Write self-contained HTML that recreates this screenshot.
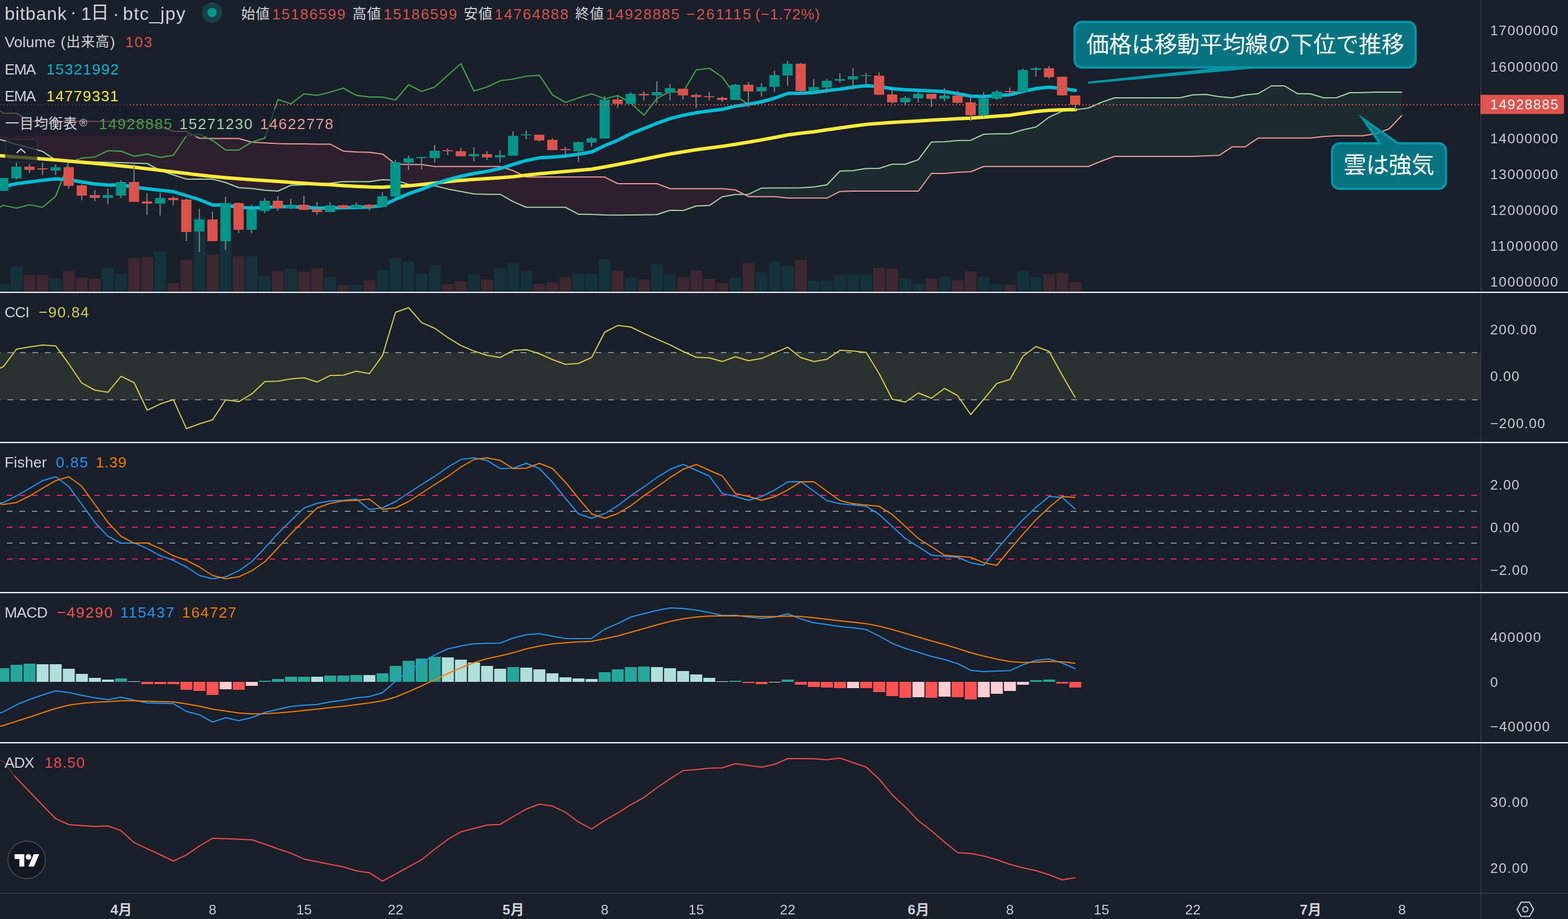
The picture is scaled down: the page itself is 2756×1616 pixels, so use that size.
<!DOCTYPE html>
<html lang="ja"><head><meta charset="utf-8"><title>bitbank · 1日 · btc_jpy</title>
<style>
html,body{margin:0;padding:0;background:#191f2b;}
body{width:2756px;height:1616px;position:relative;overflow:hidden;font-family:"Liberation Sans",sans-serif;}
svg.c{position:absolute;left:0;top:0;}
#labels{position:absolute;left:0;top:0;width:2756px;height:1616px;will-change:transform;transform:translateZ(0);}
.t{position:absolute;white-space:pre;line-height:1;font-family:"Liberation Sans",sans-serif;}
</style></head><body>
<svg class="c" width="2756" height="1616" viewBox="0 0 2756 1616" role="img" aria-label="bitbank btc_jpy 1日 チャート: 価格は移動平均線の下位で推移 / 雲は強気">
<defs>
<clipPath id="cpMain"><rect x="0" y="0" width="2602" height="513"/></clipPath>
<clipPath id="cpPlot"><rect x="0" y="515" width="2602" height="1055"/></clipPath>
</defs>
<rect x="2602" y="0" width="1.5" height="1616" fill="#363a45"/>
<g clip-path="url(#cpMain)">
<rect x="-4.5" y="500" width="21" height="13" fill="#15323b"/>
<rect x="18.5" y="469" width="21" height="44" fill="#15323b"/>
<rect x="41.5" y="483.3" width="21" height="29.7" fill="#3d2731"/>
<rect x="64.4" y="483.3" width="21" height="29.7" fill="#3d2731"/>
<rect x="87.4" y="490" width="21" height="23" fill="#15323b"/>
<rect x="110.4" y="476.7" width="21" height="36.3" fill="#3d2731"/>
<rect x="133.4" y="488.3" width="21" height="24.7" fill="#3d2731"/>
<rect x="156.3" y="490" width="21" height="23" fill="#3d2731"/>
<rect x="179.3" y="471" width="21" height="42" fill="#15323b"/>
<rect x="202.3" y="481.7" width="21" height="31.3" fill="#15323b"/>
<rect x="225.2" y="454" width="21" height="59" fill="#3d2731"/>
<rect x="248.2" y="452" width="21" height="61" fill="#3d2731"/>
<rect x="271.2" y="442" width="21" height="71" fill="#15323b"/>
<rect x="294.2" y="498" width="21" height="15" fill="#3d2731"/>
<rect x="317.2" y="457" width="21" height="56" fill="#3d2731"/>
<rect x="340.1" y="382" width="21" height="131" fill="#15323b"/>
<rect x="363.1" y="447.9" width="21" height="65.1" fill="#3d2731"/>
<rect x="386.1" y="397.3" width="21" height="115.7" fill="#15323b"/>
<rect x="409.1" y="450.7" width="21" height="62.3" fill="#3d2731"/>
<rect x="432" y="450.7" width="21" height="62.3" fill="#15323b"/>
<rect x="455" y="485.7" width="21" height="27.3" fill="#15323b"/>
<rect x="478" y="476.7" width="21" height="36.3" fill="#3d2731"/>
<rect x="501" y="472.7" width="21" height="40.3" fill="#15323b"/>
<rect x="523.9" y="477.7" width="21" height="35.3" fill="#3d2731"/>
<rect x="546.9" y="471.7" width="21" height="41.3" fill="#3d2731"/>
<rect x="569.9" y="487" width="21" height="26" fill="#15323b"/>
<rect x="592.9" y="501.7" width="21" height="11.3" fill="#3d2731"/>
<rect x="615.8" y="500.7" width="21" height="12.3" fill="#15323b"/>
<rect x="638.8" y="492.7" width="21" height="20.3" fill="#3d2731"/>
<rect x="661.8" y="475" width="21" height="38" fill="#15323b"/>
<rect x="684.8" y="453.3" width="21" height="59.7" fill="#15323b"/>
<rect x="707.7" y="460" width="21" height="53" fill="#15323b"/>
<rect x="730.7" y="480.7" width="21" height="32.3" fill="#15323b"/>
<rect x="753.7" y="465.7" width="21" height="47.3" fill="#15323b"/>
<rect x="776.7" y="500" width="21" height="13" fill="#3d2731"/>
<rect x="799.6" y="495" width="21" height="18" fill="#3d2731"/>
<rect x="822.6" y="482.7" width="21" height="30.3" fill="#15323b"/>
<rect x="845.6" y="491.7" width="21" height="21.3" fill="#3d2731"/>
<rect x="868.6" y="471.7" width="21" height="41.3" fill="#15323b"/>
<rect x="891.5" y="462.7" width="21" height="50.3" fill="#15323b"/>
<rect x="914.5" y="476.7" width="21" height="36.3" fill="#15323b"/>
<rect x="937.5" y="499" width="21" height="14" fill="#3d2731"/>
<rect x="960.5" y="496.7" width="21" height="16.3" fill="#3d2731"/>
<rect x="983.4" y="487.7" width="21" height="25.3" fill="#3d2731"/>
<rect x="1006.4" y="481.7" width="21" height="31.3" fill="#15323b"/>
<rect x="1029.4" y="481.7" width="21" height="31.3" fill="#15323b"/>
<rect x="1052.4" y="455.7" width="21" height="57.3" fill="#15323b"/>
<rect x="1075.3" y="476" width="21" height="37" fill="#3d2731"/>
<rect x="1098.3" y="487.7" width="21" height="25.3" fill="#15323b"/>
<rect x="1121.3" y="491.7" width="21" height="21.3" fill="#3d2731"/>
<rect x="1144.2" y="464.7" width="21" height="48.3" fill="#15323b"/>
<rect x="1167.2" y="482.7" width="21" height="30.3" fill="#15323b"/>
<rect x="1190.2" y="487.7" width="21" height="25.3" fill="#3d2731"/>
<rect x="1213.2" y="475.7" width="21" height="37.3" fill="#3d2731"/>
<rect x="1236.2" y="490" width="21" height="23" fill="#3d2731"/>
<rect x="1259.1" y="497.7" width="21" height="15.3" fill="#3d2731"/>
<rect x="1282.1" y="488.7" width="21" height="24.3" fill="#15323b"/>
<rect x="1305.1" y="462.7" width="21" height="50.3" fill="#3d2731"/>
<rect x="1328.1" y="478.7" width="21" height="34.3" fill="#15323b"/>
<rect x="1351" y="459.7" width="21" height="53.3" fill="#15323b"/>
<rect x="1374" y="467.7" width="21" height="45.3" fill="#15323b"/>
<rect x="1397" y="456.7" width="21" height="56.3" fill="#3d2731"/>
<rect x="1420" y="493.7" width="21" height="19.3" fill="#15323b"/>
<rect x="1442.9" y="492.7" width="21" height="20.3" fill="#15323b"/>
<rect x="1465.9" y="483.7" width="21" height="29.3" fill="#15323b"/>
<rect x="1488.9" y="482.7" width="21" height="30.3" fill="#15323b"/>
<rect x="1511.9" y="482.7" width="21" height="30.3" fill="#15323b"/>
<rect x="1534.8" y="470.7" width="21" height="42.3" fill="#3d2731"/>
<rect x="1557.8" y="472.7" width="21" height="40.3" fill="#3d2731"/>
<rect x="1580.8" y="489.7" width="21" height="23.3" fill="#15323b"/>
<rect x="1603.8" y="498.7" width="21" height="14.3" fill="#15323b"/>
<rect x="1626.7" y="489.7" width="21" height="23.3" fill="#3d2731"/>
<rect x="1649.7" y="486.7" width="21" height="26.3" fill="#15323b"/>
<rect x="1672.7" y="492.7" width="21" height="20.3" fill="#3d2731"/>
<rect x="1695.7" y="477.7" width="21" height="35.3" fill="#3d2731"/>
<rect x="1718.6" y="486.7" width="21" height="26.3" fill="#15323b"/>
<rect x="1741.6" y="500" width="21" height="13" fill="#15323b"/>
<rect x="1764.6" y="500.7" width="21" height="12.3" fill="#3d2731"/>
<rect x="1787.6" y="476.7" width="21" height="36.3" fill="#15323b"/>
<rect x="1810.5" y="487.7" width="21" height="25.3" fill="#15323b"/>
<rect x="1833.5" y="481.7" width="21" height="31.3" fill="#3d2731"/>
<rect x="1856.5" y="479.7" width="21" height="33.3" fill="#3d2731"/>
<rect x="1879.5" y="495.7" width="21" height="17.3" fill="#3d2731"/>
<polygon points="-17,241 6,247 29,254 52,260 74.9,266.3 97.9,281.7 120.9,283.3 143.9,284 166.8,284.7 189.8,285.4 212.8,286.1 235.8,286.8 258.7,287.5 281.7,300 304.7,307.5 327.7,315 350.6,315 373.6,315 396.6,321 419.6,330 442.5,331.5 465.5,334.5 488.5,336 511.5,325.8 534.4,325 557.4,323 580.4,322.3 603.4,319.3 626.3,319.5 649.3,319.5 672.3,315.9 695.2,316.9 718.2,324.2 741.2,325.4 764.2,326.8 787.2,332.4 810.1,336.7 833.1,341.1 856.1,341.7 879.1,341.7 902,354.6 925,364.5 948,364.5 971,364.5 993.9,364.5 1016.9,376.8 1039.9,377 1062.9,378 1085.8,378.3 1108.8,378 1131.8,377.7 1154.8,377.3 1177.7,369.7 1200.7,370.3 1223.7,362.3 1246.7,361.3 1269.6,346 1292.6,342 1307.9,341.8 1307.9,341.8 1292.6,334 1269.6,331.7 1246.7,331.7 1223.7,331.7 1200.7,331.7 1177.7,331.7 1154.8,323 1131.8,323 1108.8,323 1085.8,323 1062.9,311.3 1039.9,311.3 1016.9,311.3 993.9,311.3 971,311.3 948,311.3 925,311.3 902,300 879.1,292.8 856.1,292.8 833.1,292.8 810.1,292.8 787.2,292.8 764.2,292.8 741.2,289.3 718.2,289.3 695.2,288.5 672.3,270.9 649.3,267.7 626.3,267.3 603.4,265.7 580.4,253.4 557.4,253.4 534.4,253 511.5,253 488.5,252.5 465.5,251.3 442.5,250 419.6,243.5 396.6,243.5 373.6,243.5 350.6,243 327.7,231.3 304.7,230.8 281.7,223 258.7,214.5 235.8,213.6 212.8,213.5 189.8,213.4 166.8,213.4 143.9,213.3 120.9,213.3 97.9,213.2 74.9,213.2 52,213.2 29,199.2 6,199 -17,183" fill="#2e1f2e"/>
<polygon points="1307.9,341.8 1315.6,341.7 1338.6,330.7 1361.5,330.5 1384.5,330.4 1407.5,330.3 1430.5,328.7 1453.4,325 1476.4,300.7 1499.4,300 1522.4,296.3 1545.3,296 1568.3,288.7 1591.3,288.7 1614.2,280.7 1637.2,249.7 1660.2,249.3 1683.2,247 1706.2,246.7 1729.1,236 1752.1,235.3 1775.1,235.3 1798.1,228.3 1821,223.3 1844,206 1867,195.7 1890,193 1912.9,190 1935.9,180 1958.9,172 1981.9,172 2004.8,172 2027.8,172 2050.8,172 2073.8,172 2096.7,166.7 2119.7,166 2142.7,170 2165.7,172 2188.6,167 2211.6,164.7 2234.6,151 2257.6,151 2280.5,164.7 2303.5,165 2326.5,172 2349.5,171.7 2372.4,163 2395.4,162.7 2418.4,162 2441.4,162 2464.3,162 2464.3,202.7 2441.4,226.7 2418.4,235 2395.4,238.7 2372.4,238.7 2349.5,238.7 2326.5,240 2303.5,242.7 2280.5,242.7 2257.6,242.7 2234.6,242.7 2211.6,242.7 2188.6,258.3 2165.7,258.3 2142.7,273.3 2119.7,274 2096.7,275 2073.8,275 2050.8,275 2027.8,275 2004.8,275 1981.9,275 1958.9,275 1935.9,283.3 1912.9,292.7 1890,292.7 1867,292.7 1844,292.7 1821,292.7 1798.1,292.7 1775.1,292.7 1752.1,292.7 1729.1,292.7 1706.2,302 1683.2,303 1660.2,305 1637.2,305 1614.2,336 1591.3,336 1568.3,336 1545.3,336 1522.4,336 1499.4,336 1476.4,336.7 1453.4,348.3 1430.5,348.3 1407.5,348.3 1384.5,348.3 1361.5,345.7 1338.6,345.7 1315.6,345.7 1307.9,341.8" fill="#1d2b30"/>
<polyline points="-17,241 6,247 29,254 52,260 74.9,266.3 97.9,281.7 120.9,283.3 143.9,284 166.8,284.7 189.8,285.4 212.8,286.1 235.8,286.8 258.7,287.5 281.7,300 304.7,307.5 327.7,315 350.6,315 373.6,315 396.6,321 419.6,330 442.5,331.5 465.5,334.5 488.5,336 511.5,325.8 534.4,325 557.4,323 580.4,322.3 603.4,319.3 626.3,319.5 649.3,319.5 672.3,315.9 695.2,316.9 718.2,324.2 741.2,325.4 764.2,326.8 787.2,332.4 810.1,336.7 833.1,341.1 856.1,341.7 879.1,341.7 902,354.6 925,364.5 948,364.5 971,364.5 993.9,364.5 1016.9,376.8 1039.9,377 1062.9,378 1085.8,378.3 1108.8,378 1131.8,377.7 1154.8,377.3 1177.7,369.7 1200.7,370.3 1223.7,362.3 1246.7,361.3 1269.6,346 1292.6,342 1315.6,341.7 1338.6,330.7 1361.5,330.5 1384.5,330.4 1407.5,330.3 1430.5,328.7 1453.4,325 1476.4,300.7 1499.4,300 1522.4,296.3 1545.3,296 1568.3,288.7 1591.3,288.7 1614.2,280.7 1637.2,249.7 1660.2,249.3 1683.2,247 1706.2,246.7 1729.1,236 1752.1,235.3 1775.1,235.3 1798.1,228.3 1821,223.3 1844,206 1867,195.7 1890,193 1912.9,190 1935.9,180 1958.9,172 1981.9,172 2004.8,172 2027.8,172 2050.8,172 2073.8,172 2096.7,166.7 2119.7,166 2142.7,170 2165.7,172 2188.6,167 2211.6,164.7 2234.6,151 2257.6,151 2280.5,164.7 2303.5,165 2326.5,172 2349.5,171.7 2372.4,163 2395.4,162.7 2418.4,162 2441.4,162 2464.3,162" fill="none" stroke="#a5d6a7" stroke-width="2" stroke-linejoin="round"/>
<polyline points="-17,183 6,199 29,199.2 52,213.2 74.9,213.2 97.9,213.2 120.9,213.3 143.9,213.3 166.8,213.4 189.8,213.4 212.8,213.5 235.8,213.6 258.7,214.5 281.7,223 304.7,230.8 327.7,231.3 350.6,243 373.6,243.5 396.6,243.5 419.6,243.5 442.5,250 465.5,251.3 488.5,252.5 511.5,253 534.4,253 557.4,253.4 580.4,253.4 603.4,265.7 626.3,267.3 649.3,267.7 672.3,270.9 695.2,288.5 718.2,289.3 741.2,289.3 764.2,292.8 787.2,292.8 810.1,292.8 833.1,292.8 856.1,292.8 879.1,292.8 902,300 925,311.3 948,311.3 971,311.3 993.9,311.3 1016.9,311.3 1039.9,311.3 1062.9,311.3 1085.8,323 1108.8,323 1131.8,323 1154.8,323 1177.7,331.7 1200.7,331.7 1223.7,331.7 1246.7,331.7 1269.6,331.7 1292.6,334 1315.6,345.7 1338.6,345.7 1361.5,345.7 1384.5,348.3 1407.5,348.3 1430.5,348.3 1453.4,348.3 1476.4,336.7 1499.4,336 1522.4,336 1545.3,336 1568.3,336 1591.3,336 1614.2,336 1637.2,305 1660.2,305 1683.2,303 1706.2,302 1729.1,292.7 1752.1,292.7 1775.1,292.7 1798.1,292.7 1821,292.7 1844,292.7 1867,292.7 1890,292.7 1912.9,292.7 1935.9,283.3 1958.9,275 1981.9,275 2004.8,275 2027.8,275 2050.8,275 2073.8,275 2096.7,275 2119.7,274 2142.7,273.3 2165.7,258.3 2188.6,258.3 2211.6,242.7 2234.6,242.7 2257.6,242.7 2280.5,242.7 2303.5,242.7 2326.5,240 2349.5,238.7 2372.4,238.7 2395.4,238.7 2418.4,235 2441.4,226.7 2464.3,202.7" fill="none" stroke="#ef9a9a" stroke-width="2" stroke-linejoin="round"/>
<polyline points="-17,373 6,361 29,366 52,360 74.9,364.5 97.9,345 120.9,285.2 143.9,278.2 166.8,276 189.8,265 212.8,265.9 235.8,274.8 258.7,270.9 281.7,276.8 304.7,272.9 327.7,238.9 350.6,236.2 373.6,246.9 396.6,263.9 419.6,263.9 442.5,249.8 465.5,242.9 488.5,175 511.5,182.7 534.4,165 557.4,167.7 580.4,162 603.4,155 626.3,167.7 649.3,170.7 672.3,170.7 695.2,175.7 718.2,149 741.2,160.7 764.2,153 787.2,132 810.1,112 833.1,160 856.1,153 879.1,142 902,139 925,134 948,132.3 971,166.7 993.9,180 1016.9,172 1039.9,165 1062.9,173.7 1085.8,168 1108.8,180.8 1131.8,202.7 1154.8,173 1177.7,161 1200.7,162 1223.7,123 1246.7,120 1269.6,135.7 1292.6,167.7 1315.6,184" fill="none" stroke="#43a047" stroke-width="2.2" stroke-linejoin="round"/>
<polyline points="-17,272.6 6,274.3 29,276 52,277.8 74.9,279.5 97.9,281.3 120.9,283.3 143.9,285.3 166.8,287.3 189.8,289.5 212.8,291.7 235.8,294 258.7,296.8 281.7,299.5 304.7,302.3 327.7,305 350.6,307.8 373.6,310.3 396.6,312.5 419.6,314.3 442.5,316 465.5,317.5 488.5,319 511.5,320.7 534.4,322.3 557.4,323.8 580.4,324.8 603.4,326.4 626.3,327.8 649.3,328.8 672.3,329.2 695.2,327.8 718.2,326.8 741.2,324.4 764.2,321.9 787.2,319.3 810.1,317.3 833.1,315.5 856.1,313.9 879.1,312.5 902,310.8 925,308 948,305.6 971,303.5 993.9,301.6 1016.9,299.4 1039.9,297.5 1062.9,293.5 1085.8,289.3 1108.8,284.7 1131.8,280 1154.8,275.3 1177.7,270.7 1200.7,267 1223.7,263.3 1246.7,260.3 1269.6,257.3 1292.6,253.7 1315.6,250 1338.6,246 1361.5,241.7 1384.5,237.3 1407.5,234.3 1430.5,231.7 1453.4,228.3 1476.4,225 1499.4,221.7 1522.4,218.7 1545.3,217 1568.3,215.3 1591.3,214 1614.2,212.7 1637.2,211.3 1660.2,210 1683.2,208.7 1706.2,207.7 1729.1,206 1752.1,204.3 1775.1,202.7 1798.1,199.3 1821,196 1844,194 1867,193 1890,192.7" fill="none" stroke="#ffeb3b" stroke-width="6" stroke-linejoin="round" stroke-linecap="round"/>
<polyline points="6,328 29,323 52,320 74.9,317 97.9,314.5 120.9,316 143.9,320 166.8,323.5 189.8,325.5 212.8,325 235.8,329 258.7,332 281.7,334.5 304.7,337 327.7,344 350.6,351 373.6,360.5 396.6,360.5 419.6,364.5 442.5,366 465.5,364.5 488.5,363.5 511.5,363.5 534.4,364.3 557.4,365.9 580.4,365.7 603.4,365.3 626.3,364.8 649.3,364.1 672.3,361.5 695.2,350.6 718.2,340.7 741.2,332.8 764.2,323.9 787.2,315.9 810.1,310 833.1,305 856.1,301.4 879.1,296.3 902,289.1 925,282.2 948,277.6 971,276.2 993.9,274.2 1016.9,271.3 1039.9,267.3 1062.9,256 1085.8,246.7 1108.8,235 1131.8,226 1154.8,216.7 1177.7,208.7 1200.7,202.7 1223.7,198.3 1246.7,195 1269.6,192.3 1292.6,186.7 1315.6,183.3 1338.6,179 1361.5,172.7 1384.5,164.3 1407.5,164 1430.5,162.7 1453.4,159.3 1476.4,156.7 1499.4,153.3 1522.4,150.7 1545.3,152.3 1568.3,156 1591.3,157.7 1614.2,158.7 1637.2,160 1660.2,161 1683.2,164.7 1706.2,169 1729.1,169.7 1752.1,167.7 1775.1,166.7 1798.1,160.7 1821,155.7 1844,153.3 1867,155.7 1890,159" fill="none" stroke="#00bcd4" stroke-width="6" stroke-linejoin="round" stroke-linecap="round"/>
<rect x="4.8" y="313" width="2" height="22.8" fill="#7f8286"/>
<rect x="-3.2" y="313" width="18" height="22.8" fill="#009688"/>
<rect x="27.8" y="286.2" width="2" height="29.6" fill="#7f8286"/>
<rect x="19.8" y="293" width="18" height="20.8" fill="#009688"/>
<rect x="50.8" y="288" width="2" height="16" fill="#7f8286"/>
<rect x="42.8" y="293" width="18" height="5.8" fill="#de524b"/>
<rect x="73.7" y="286.2" width="2" height="21.6" fill="#7f8286"/>
<rect x="65.7" y="296" width="18" height="2" fill="#de524b"/>
<rect x="96.7" y="289" width="2" height="18.8" fill="#7f8286"/>
<rect x="88.7" y="294" width="18" height="6" fill="#009688"/>
<rect x="119.7" y="292" width="2" height="40" fill="#7f8286"/>
<rect x="111.7" y="294" width="18" height="32.8" fill="#de524b"/>
<rect x="142.7" y="324.2" width="2" height="27.8" fill="#7f8286"/>
<rect x="134.7" y="326" width="18" height="18" fill="#de524b"/>
<rect x="165.6" y="334" width="2" height="20" fill="#7f8286"/>
<rect x="157.6" y="343" width="18" height="5" fill="#de524b"/>
<rect x="188.6" y="332" width="2" height="27" fill="#7f8286"/>
<rect x="180.6" y="343" width="18" height="5" fill="#009688"/>
<rect x="211.6" y="317" width="2" height="31" fill="#7f8286"/>
<rect x="203.6" y="320" width="18" height="24" fill="#009688"/>
<rect x="234.6" y="288.3" width="2" height="66.7" fill="#7f8286"/>
<rect x="226.6" y="320" width="18" height="35" fill="#de524b"/>
<rect x="257.5" y="340" width="2" height="38" fill="#7f8286"/>
<rect x="249.5" y="354" width="18" height="4" fill="#de524b"/>
<rect x="280.5" y="339" width="2" height="40" fill="#7f8286"/>
<rect x="272.5" y="348" width="18" height="10" fill="#009688"/>
<rect x="303.5" y="345" width="2" height="16" fill="#7f8286"/>
<rect x="295.5" y="348" width="18" height="4" fill="#de524b"/>
<rect x="326.5" y="349" width="2" height="75" fill="#7f8286"/>
<rect x="318.5" y="351" width="18" height="57" fill="#de524b"/>
<rect x="349.4" y="367" width="2" height="76" fill="#7f8286"/>
<rect x="341.4" y="386" width="18" height="21" fill="#009688"/>
<rect x="372.4" y="372" width="2" height="52" fill="#7f8286"/>
<rect x="364.4" y="386" width="18" height="38" fill="#de524b"/>
<rect x="395.4" y="346" width="2" height="94" fill="#7f8286"/>
<rect x="387.4" y="357" width="18" height="67" fill="#009688"/>
<rect x="418.4" y="356" width="2" height="54" fill="#7f8286"/>
<rect x="410.4" y="357" width="18" height="47" fill="#de524b"/>
<rect x="441.3" y="360" width="2" height="50" fill="#7f8286"/>
<rect x="433.3" y="369" width="18" height="35" fill="#009688"/>
<rect x="464.3" y="348" width="2" height="27" fill="#7f8286"/>
<rect x="456.3" y="353" width="18" height="18" fill="#009688"/>
<rect x="487.3" y="345" width="2" height="26" fill="#7f8286"/>
<rect x="479.3" y="353" width="18" height="13" fill="#de524b"/>
<rect x="510.3" y="349" width="2" height="18.6" fill="#7f8286"/>
<rect x="502.3" y="360" width="18" height="6" fill="#009688"/>
<rect x="533.2" y="344" width="2" height="25" fill="#7f8286"/>
<rect x="525.2" y="360" width="18" height="9" fill="#de524b"/>
<rect x="556.2" y="355" width="2" height="23" fill="#7f8286"/>
<rect x="548.2" y="368" width="18" height="5" fill="#de524b"/>
<rect x="579.2" y="356" width="2" height="17" fill="#7f8286"/>
<rect x="571.2" y="361" width="18" height="12" fill="#009688"/>
<rect x="602.1" y="360" width="2" height="7" fill="#7f8286"/>
<rect x="594.1" y="361" width="18" height="5" fill="#de524b"/>
<rect x="625.1" y="356" width="2" height="10" fill="#7f8286"/>
<rect x="617.1" y="360" width="18" height="6" fill="#009688"/>
<rect x="648.1" y="359" width="2" height="11" fill="#7f8286"/>
<rect x="640.1" y="360" width="18" height="4.5" fill="#de524b"/>
<rect x="671.1" y="338" width="2" height="26" fill="#7f8286"/>
<rect x="663.1" y="345" width="18" height="19" fill="#009688"/>
<rect x="694" y="281.2" width="2" height="67.1" fill="#7f8286"/>
<rect x="686" y="285.2" width="18" height="60.5" fill="#009688"/>
<rect x="717" y="274.2" width="2" height="24.8" fill="#7f8286"/>
<rect x="709" y="278.2" width="18" height="8" fill="#009688"/>
<rect x="740" y="276" width="2" height="22" fill="#7f8286"/>
<rect x="732" y="276" width="18" height="2" fill="#009688"/>
<rect x="763" y="255" width="2" height="30.8" fill="#7f8286"/>
<rect x="755" y="265" width="18" height="13" fill="#009688"/>
<rect x="786" y="261" width="2" height="11.9" fill="#7f8286"/>
<rect x="778" y="264.1" width="18" height="1.8" fill="#de524b"/>
<rect x="808.9" y="260" width="2" height="14.8" fill="#7f8286"/>
<rect x="800.9" y="265.9" width="18" height="8.9" fill="#de524b"/>
<rect x="831.9" y="259" width="2" height="24.8" fill="#7f8286"/>
<rect x="823.9" y="270.9" width="18" height="3.9" fill="#009688"/>
<rect x="854.9" y="265.9" width="2" height="15.3" fill="#7f8286"/>
<rect x="846.9" y="270.9" width="18" height="5.9" fill="#de524b"/>
<rect x="877.9" y="264" width="2" height="21.8" fill="#7f8286"/>
<rect x="869.9" y="272.9" width="18" height="3.9" fill="#009688"/>
<rect x="900.8" y="231" width="2" height="42.8" fill="#7f8286"/>
<rect x="892.8" y="238.9" width="18" height="34.9" fill="#009688"/>
<rect x="923.8" y="230" width="2" height="14.9" fill="#7f8286"/>
<rect x="915.8" y="236.2" width="18" height="1.7" fill="#009688"/>
<rect x="946.8" y="236.9" width="2" height="11.9" fill="#7f8286"/>
<rect x="938.8" y="236.9" width="18" height="10" fill="#de524b"/>
<rect x="969.8" y="243.1" width="2" height="20.8" fill="#7f8286"/>
<rect x="961.8" y="245.9" width="18" height="18" fill="#de524b"/>
<rect x="992.7" y="258" width="2" height="16.8" fill="#7f8286"/>
<rect x="984.7" y="262" width="18" height="1.9" fill="#de524b"/>
<rect x="1015.7" y="248.8" width="2" height="36" fill="#7f8286"/>
<rect x="1007.7" y="249.8" width="18" height="16.1" fill="#009688"/>
<rect x="1038.7" y="240.9" width="2" height="17.1" fill="#7f8286"/>
<rect x="1030.7" y="242.9" width="18" height="7.9" fill="#009688"/>
<rect x="1061.7" y="169.3" width="2" height="74.4" fill="#7f8286"/>
<rect x="1053.7" y="175" width="18" height="68.7" fill="#009688"/>
<rect x="1084.6" y="168.3" width="2" height="21.7" fill="#7f8286"/>
<rect x="1076.6" y="175" width="18" height="7.7" fill="#de524b"/>
<rect x="1107.6" y="162" width="2" height="20.7" fill="#7f8286"/>
<rect x="1099.6" y="165" width="18" height="17.7" fill="#009688"/>
<rect x="1130.6" y="160.7" width="2" height="16" fill="#7f8286"/>
<rect x="1122.6" y="165" width="18" height="2.7" fill="#de524b"/>
<rect x="1153.5" y="143" width="2" height="38.3" fill="#7f8286"/>
<rect x="1145.5" y="162" width="18" height="5.7" fill="#009688"/>
<rect x="1176.5" y="148" width="2" height="28.7" fill="#7f8286"/>
<rect x="1168.5" y="155" width="18" height="7.7" fill="#009688"/>
<rect x="1199.5" y="156" width="2" height="19" fill="#7f8286"/>
<rect x="1191.5" y="156" width="18" height="11.7" fill="#de524b"/>
<rect x="1222.5" y="164" width="2" height="26" fill="#7f8286"/>
<rect x="1214.5" y="167" width="18" height="3.7" fill="#de524b"/>
<rect x="1245.5" y="161.3" width="2" height="15.4" fill="#7f8286"/>
<rect x="1237.5" y="169" width="18" height="1.7" fill="#de524b"/>
<rect x="1268.4" y="170" width="2" height="9.3" fill="#7f8286"/>
<rect x="1260.4" y="172" width="18" height="3.7" fill="#de524b"/>
<rect x="1291.4" y="147.7" width="2" height="28" fill="#7f8286"/>
<rect x="1283.4" y="149" width="18" height="26.7" fill="#009688"/>
<rect x="1314.4" y="144" width="2" height="44.3" fill="#7f8286"/>
<rect x="1306.4" y="149" width="18" height="11.7" fill="#de524b"/>
<rect x="1337.4" y="146" width="2" height="24" fill="#7f8286"/>
<rect x="1329.4" y="153" width="18" height="7.7" fill="#009688"/>
<rect x="1360.3" y="124" width="2" height="37.7" fill="#7f8286"/>
<rect x="1352.3" y="132" width="18" height="20.7" fill="#009688"/>
<rect x="1383.3" y="107" width="2" height="43.7" fill="#7f8286"/>
<rect x="1375.3" y="112" width="18" height="20.7" fill="#009688"/>
<rect x="1406.3" y="110.7" width="2" height="52" fill="#7f8286"/>
<rect x="1398.3" y="112" width="18" height="48" fill="#de524b"/>
<rect x="1429.2" y="139" width="2" height="22.7" fill="#7f8286"/>
<rect x="1421.2" y="153" width="18" height="7" fill="#009688"/>
<rect x="1452.2" y="138.7" width="2" height="25.3" fill="#7f8286"/>
<rect x="1444.2" y="142" width="18" height="11.7" fill="#009688"/>
<rect x="1475.2" y="129" width="2" height="16" fill="#7f8286"/>
<rect x="1467.2" y="139" width="18" height="3" fill="#009688"/>
<rect x="1498.2" y="120" width="2" height="37.3" fill="#7f8286"/>
<rect x="1490.2" y="134" width="18" height="5.7" fill="#009688"/>
<rect x="1521.2" y="128" width="2" height="20.3" fill="#7f8286"/>
<rect x="1513.2" y="132.3" width="18" height="1.5" fill="#009688"/>
<rect x="1544.1" y="127.3" width="2" height="39.4" fill="#7f8286"/>
<rect x="1536.1" y="133" width="18" height="33.7" fill="#de524b"/>
<rect x="1567.1" y="158" width="2" height="24" fill="#7f8286"/>
<rect x="1559.1" y="166" width="18" height="14" fill="#de524b"/>
<rect x="1590.1" y="169" width="2" height="16.7" fill="#7f8286"/>
<rect x="1582.1" y="172" width="18" height="8" fill="#009688"/>
<rect x="1613" y="162" width="2" height="18" fill="#7f8286"/>
<rect x="1605" y="165" width="18" height="8" fill="#009688"/>
<rect x="1636" y="165" width="2" height="23.3" fill="#7f8286"/>
<rect x="1628" y="165" width="18" height="8.7" fill="#de524b"/>
<rect x="1659" y="155" width="2" height="23" fill="#7f8286"/>
<rect x="1651" y="168" width="18" height="5.7" fill="#009688"/>
<rect x="1682" y="160" width="2" height="22" fill="#7f8286"/>
<rect x="1674" y="168" width="18" height="12.8" fill="#de524b"/>
<rect x="1705" y="166.7" width="2" height="46" fill="#7f8286"/>
<rect x="1697" y="180" width="18" height="22.7" fill="#de524b"/>
<rect x="1727.9" y="162" width="2" height="43.7" fill="#7f8286"/>
<rect x="1719.9" y="173" width="18" height="29.7" fill="#009688"/>
<rect x="1750.9" y="158.7" width="2" height="17.3" fill="#7f8286"/>
<rect x="1742.9" y="161" width="18" height="12.7" fill="#009688"/>
<rect x="1773.9" y="154" width="2" height="12.7" fill="#7f8286"/>
<rect x="1765.9" y="160" width="18" height="2" fill="#de524b"/>
<rect x="1796.9" y="120.7" width="2" height="43.3" fill="#7f8286"/>
<rect x="1788.9" y="123" width="18" height="39" fill="#009688"/>
<rect x="1819.8" y="118" width="2" height="16.7" fill="#7f8286"/>
<rect x="1811.8" y="120" width="18" height="3" fill="#009688"/>
<rect x="1842.8" y="116" width="2" height="22.7" fill="#7f8286"/>
<rect x="1834.8" y="120" width="18" height="15.7" fill="#de524b"/>
<rect x="1865.8" y="134" width="2" height="33.7" fill="#7f8286"/>
<rect x="1857.8" y="135" width="18" height="32.7" fill="#de524b"/>
<rect x="1888.8" y="168" width="2" height="25.5" fill="#7f8286"/>
<rect x="1880.8" y="168" width="18" height="16" fill="#de524b"/>
<line x1="0" y1="184.2" x2="2602" y2="184.2" stroke="#f7554a" stroke-width="2" stroke-dasharray="2 4"/>
</g>
<polygon points="1912.3,143.4 2131.7,120.3 2203.5,120.6 1912.3,147.3" fill="#0097a7"/>
<path d="M1901.8,38.5 L2475,38.5 A13,13 0 0 1 2488,51.5 L2488,105.8 A13,13 0 0 1 2475,118.8 L1901.8,118.8 A13,13 0 0 1 1888.8,105.8 L1888.8,51.5 A13,13 0 0 1 1901.8,38.5 Z" fill="rgba(0,151,167,0.7)" stroke="#0097a7" stroke-width="4" stroke-linejoin="miter" stroke-miterlimit="10"/>
<path d="M2354.4,252 L2425.5,252 L2396,209.3 L2457.1,252 L2528.5,252 A13,13 0 0 1 2541.5,265 L2541.5,319.1 A13,13 0 0 1 2528.5,332.1 L2354.4,332.1 A13,13 0 0 1 2341.4,319.1 L2341.4,265 A13,13 0 0 1 2354.4,252 Z" fill="rgba(0,151,167,0.7)" stroke="#0097a7" stroke-width="4" stroke-linejoin="miter" stroke-miterlimit="10"/>
<text x="1909.3" y="91.5" font-size="40" fill="#ffffff" font-family="'Liberation Sans','Noto Sans CJK JP',sans-serif" textLength="558.6" lengthAdjust="spacing">価格は移動平均線の下位で推移</text>
<text x="2361.5" y="304.1" font-size="40" fill="#ffffff" font-family="'Liberation Sans','Noto Sans CJK JP',sans-serif" textLength="159.2" lengthAdjust="spacing">雲は強気</text>
<rect x="0" y="144" width="224" height="48" fill="#191f2b" opacity="0.65"/>
<rect x="0" y="192" width="594" height="48" fill="#191f2b" opacity="0.65"/>
<rect x="9.2" y="245.2" width="56" height="40" rx="5" fill="#191f2b" fill-opacity="0.72" stroke="#4c505c" stroke-width="1" stroke-dasharray="2 1.5"/>
<polyline points="29.2,269 36.9,262 44.7,269" fill="none" stroke="#d1d4dc" stroke-width="2.2"/>
<circle cx="372.8" cy="22" r="18" fill="#1a3e46"/><circle cx="372.8" cy="22" r="8" fill="#009b8c"/>
<g clip-path="url(#cpPlot)">
<rect x="0" y="620" width="2602" height="83" fill="#2b3031"/>
<line x1="-9" y1="620" x2="2602" y2="620" stroke="#868993" stroke-width="2" stroke-dasharray="10 12"/>
<line x1="-9" y1="703" x2="2602" y2="703" stroke="#868993" stroke-width="2" stroke-dasharray="10 12"/>
<polyline points="-17,654.7 6,644.7 29,614 52,610 74.9,606.7 97.9,608.3 120.9,639.7 143.9,673.7 166.8,686 189.8,689.7 212.8,661.7 235.8,673 258.7,721.3 281.7,710.3 304.7,702.7 327.7,753.7 350.6,745.3 373.6,738.3 396.6,703.3 419.6,706.3 442.5,692.7 465.5,671 488.5,670.3 511.5,666.3 534.4,664.3 557.4,671.7 580.4,660.3 603.4,659.7 626.3,652.7 649.3,657 672.3,625.3 695.2,549.3 718.2,541 741.2,567.3 764.2,577.3 787.2,593.7 810.1,607.7 833.1,617.3 856.1,624.7 879.1,628.7 902,616.3 925,614.7 948,622 971,632.3 993.9,640.7 1016.9,639 1039.9,628.7 1062.9,584 1085.8,572.3 1108.8,575 1131.8,586.3 1154.8,596.3 1177.7,606.3 1200.7,618 1223.7,628.3 1246.7,629.3 1269.6,635.7 1292.6,627.3 1315.6,634.3 1338.6,630.3 1361.5,620.3 1384.5,610.7 1407.5,628.7 1430.5,635.7 1453.4,631.7 1476.4,616 1499.4,617.3 1522.4,619.7 1545.3,657 1568.3,702 1591.3,707 1614.2,691 1637.2,700.3 1660.2,683 1683.2,695.7 1706.2,729 1729.1,702 1752.1,674.3 1775.1,667.3 1798.1,626.3 1821,609.3 1844,618 1867,659.7 1890,699.3" fill="none" stroke="#d4cd4c" stroke-width="2" stroke-linejoin="round"/>
<line x1="-10" y1="871" x2="2596" y2="871" stroke="#e91e63" stroke-width="2" stroke-dasharray="10 12"/>
<line x1="-10" y1="899" x2="2596" y2="899" stroke="#868993" stroke-width="2" stroke-dasharray="10 12"/>
<line x1="-10" y1="927" x2="2596" y2="927" stroke="#e91e63" stroke-width="2" stroke-dasharray="10 12"/>
<line x1="-10" y1="955" x2="2596" y2="955" stroke="#868993" stroke-width="2" stroke-dasharray="10 12"/>
<line x1="-10" y1="983" x2="2596" y2="983" stroke="#e91e63" stroke-width="2" stroke-dasharray="10 12"/>
<polyline points="-17,887 6,883.7 29,872 52,858.7 74.9,845.3 97.9,838.3 120.9,855.3 143.9,887 166.8,918.7 189.8,943 212.8,955.3 235.8,954.7 258.7,964.7 281.7,977.3 304.7,985.3 327.7,997 350.6,1012 373.6,1017.7 396.6,1014.3 419.6,1003.7 442.5,987.7 465.5,963.7 488.5,938 511.5,915.3 534.4,893.3 557.4,885 580.4,880.7 603.4,879.7 626.3,877.7 649.3,895.7 672.3,893 695.2,882 718.2,867 741.2,852 764.2,837.7 787.2,821.3 810.1,808 833.1,805 856.1,809.7 879.1,824 902,823.3 925,814.7 948,823.7 971,848 993.9,876.3 1016.9,903.7 1039.9,911.3 1062.9,903 1085.8,889.3 1108.8,871.7 1131.8,856 1154.8,839.7 1177.7,825.3 1200.7,816.7 1223.7,827 1246.7,837 1269.6,867.7 1292.6,873 1315.6,879.7 1338.6,873.3 1361.5,861.7 1384.5,847.3 1407.5,847 1430.5,863.7 1453.4,880.3 1476.4,885.7 1499.4,888 1522.4,890.3 1545.3,904.7 1568.3,925.7 1591.3,947 1614.2,961.3 1637.2,976.3 1660.2,978.3 1683.2,980 1706.2,989.7 1729.1,994 1752.1,966 1775.1,939.3 1798.1,913.7 1821,892.3 1844,873 1867,874.7 1890,895.3" fill="none" stroke="#2196f3" stroke-width="2" stroke-linejoin="round"/>
<polyline points="-17,883 6,887 29,883.7 52,872 74.9,858.7 97.9,845.3 120.9,838.3 143.9,855.3 166.8,887 189.8,918.7 212.8,943 235.8,955.3 258.7,954.7 281.7,964.7 304.7,977.3 327.7,985.3 350.6,997 373.6,1012 396.6,1017.7 419.6,1014.3 442.5,1003.7 465.5,987.7 488.5,963.7 511.5,938 534.4,915.3 557.4,893.3 580.4,885 603.4,880.7 626.3,879.7 649.3,877.7 672.3,895.7 695.2,893 718.2,882 741.2,867 764.2,852 787.2,837.7 810.1,821.3 833.1,808 856.1,805 879.1,809.7 902,824 925,823.3 948,814.7 971,823.7 993.9,848 1016.9,876.3 1039.9,903.7 1062.9,911.3 1085.8,903 1108.8,889.3 1131.8,871.7 1154.8,856 1177.7,839.7 1200.7,825.3 1223.7,816.7 1246.7,827 1269.6,837 1292.6,867.7 1315.6,873 1338.6,879.7 1361.5,873.3 1384.5,861.7 1407.5,847.3 1430.5,847 1453.4,863.7 1476.4,880.3 1499.4,885.7 1522.4,888 1545.3,890.3 1568.3,904.7 1591.3,925.7 1614.2,947 1637.2,961.3 1660.2,976.3 1683.2,978.3 1706.2,980 1729.1,989.7 1752.1,994 1775.1,966 1798.1,939.3 1821,913.7 1844,892.3 1867,873 1890,874.7" fill="none" stroke="#f57c00" stroke-width="2" stroke-linejoin="round"/>
<rect x="-4.5" y="1175" width="21" height="24" fill="#26a69a"/>
<rect x="18.5" y="1169" width="21" height="30" fill="#26a69a"/>
<rect x="41.5" y="1167" width="21" height="32" fill="#26a69a"/>
<rect x="64.4" y="1168" width="21" height="31" fill="#b2dfdb"/>
<rect x="87.4" y="1168" width="21" height="31" fill="#b2dfdb"/>
<rect x="110.4" y="1176" width="21" height="23" fill="#b2dfdb"/>
<rect x="133.4" y="1185" width="21" height="14" fill="#b2dfdb"/>
<rect x="156.3" y="1192" width="21" height="7" fill="#b2dfdb"/>
<rect x="179.3" y="1195" width="21" height="4" fill="#b2dfdb"/>
<rect x="202.3" y="1193" width="21" height="6" fill="#26a69a"/>
<rect x="225.2" y="1198" width="21" height="1" fill="#b2dfdb"/>
<rect x="248.2" y="1199" width="21" height="4" fill="#ff5252"/>
<rect x="271.2" y="1199" width="21" height="4" fill="#ff5252"/>
<rect x="294.2" y="1199" width="21" height="4" fill="#ff5252"/>
<rect x="317.2" y="1199" width="21" height="14" fill="#ff5252"/>
<rect x="340.1" y="1199" width="21" height="16" fill="#ff5252"/>
<rect x="363.1" y="1199" width="21" height="23" fill="#ff5252"/>
<rect x="386.1" y="1199" width="21" height="13" fill="#ffcdd2"/>
<rect x="409.1" y="1199" width="21" height="14" fill="#ff5252"/>
<rect x="432" y="1199" width="21" height="7" fill="#ffcdd2"/>
<rect x="455" y="1197" width="21" height="2" fill="#26a69a"/>
<rect x="478" y="1194" width="21" height="5" fill="#26a69a"/>
<rect x="501" y="1190" width="21" height="9" fill="#26a69a"/>
<rect x="523.9" y="1190" width="21" height="9" fill="#26a69a"/>
<rect x="546.9" y="1190" width="21" height="9" fill="#b2dfdb"/>
<rect x="569.9" y="1188" width="21" height="11" fill="#26a69a"/>
<rect x="592.9" y="1188" width="21" height="11" fill="#26a69a"/>
<rect x="615.8" y="1187" width="21" height="12" fill="#26a69a"/>
<rect x="638.8" y="1187" width="21" height="12" fill="#b2dfdb"/>
<rect x="661.8" y="1184" width="21" height="15" fill="#26a69a"/>
<rect x="684.8" y="1171" width="21" height="28" fill="#26a69a"/>
<rect x="707.7" y="1162" width="21" height="37" fill="#26a69a"/>
<rect x="730.7" y="1158" width="21" height="41" fill="#26a69a"/>
<rect x="753.7" y="1155" width="21" height="44" fill="#26a69a"/>
<rect x="776.7" y="1156" width="21" height="43" fill="#b2dfdb"/>
<rect x="799.6" y="1160" width="21" height="39" fill="#b2dfdb"/>
<rect x="822.6" y="1165" width="21" height="34" fill="#b2dfdb"/>
<rect x="845.6" y="1171" width="21" height="28" fill="#b2dfdb"/>
<rect x="868.6" y="1176" width="21" height="23" fill="#b2dfdb"/>
<rect x="891.5" y="1173" width="21" height="26" fill="#26a69a"/>
<rect x="914.5" y="1174" width="21" height="25" fill="#b2dfdb"/>
<rect x="937.5" y="1177" width="21" height="22" fill="#b2dfdb"/>
<rect x="960.5" y="1184" width="21" height="15" fill="#b2dfdb"/>
<rect x="983.4" y="1191" width="21" height="8" fill="#b2dfdb"/>
<rect x="1006.4" y="1193" width="21" height="6" fill="#b2dfdb"/>
<rect x="1029.4" y="1194" width="21" height="5" fill="#b2dfdb"/>
<rect x="1052.4" y="1182" width="21" height="17" fill="#26a69a"/>
<rect x="1075.3" y="1177" width="21" height="22" fill="#26a69a"/>
<rect x="1098.3" y="1173" width="21" height="26" fill="#26a69a"/>
<rect x="1121.3" y="1172" width="21" height="27" fill="#26a69a"/>
<rect x="1144.2" y="1173" width="21" height="26" fill="#b2dfdb"/>
<rect x="1167.2" y="1175" width="21" height="24" fill="#b2dfdb"/>
<rect x="1190.2" y="1180" width="21" height="19" fill="#b2dfdb"/>
<rect x="1213.2" y="1186" width="21" height="13" fill="#b2dfdb"/>
<rect x="1236.2" y="1192" width="21" height="7" fill="#b2dfdb"/>
<rect x="1259.1" y="1198" width="21" height="1" fill="#b2dfdb"/>
<rect x="1282.1" y="1197" width="21" height="2" fill="#26a69a"/>
<rect x="1305.1" y="1199" width="21" height="2" fill="#ff5252"/>
<rect x="1328.1" y="1199" width="21" height="4" fill="#ff5252"/>
<rect x="1351" y="1199" width="21" height="1" fill="#ffcdd2"/>
<rect x="1374" y="1195" width="21" height="4" fill="#26a69a"/>
<rect x="1397" y="1199" width="21" height="5" fill="#ff5252"/>
<rect x="1420" y="1199" width="21" height="9" fill="#ff5252"/>
<rect x="1442.9" y="1199" width="21" height="10" fill="#ff5252"/>
<rect x="1465.9" y="1199" width="21" height="11" fill="#ff5252"/>
<rect x="1488.9" y="1199" width="21" height="11" fill="#ffcdd2"/>
<rect x="1511.9" y="1199" width="21" height="11" fill="#ff5252"/>
<rect x="1534.8" y="1199" width="21" height="18" fill="#ff5252"/>
<rect x="1557.8" y="1199" width="21" height="25" fill="#ff5252"/>
<rect x="1580.8" y="1199" width="21" height="28" fill="#ff5252"/>
<rect x="1603.8" y="1199" width="21" height="27" fill="#ffcdd2"/>
<rect x="1626.7" y="1199" width="21" height="28" fill="#ff5252"/>
<rect x="1649.7" y="1199" width="21" height="26" fill="#ffcdd2"/>
<rect x="1672.7" y="1199" width="21" height="27" fill="#ff5252"/>
<rect x="1695.7" y="1199" width="21" height="31" fill="#ff5252"/>
<rect x="1718.6" y="1199" width="21" height="27" fill="#ffcdd2"/>
<rect x="1741.6" y="1199" width="21" height="21" fill="#ffcdd2"/>
<rect x="1764.6" y="1199" width="21" height="16" fill="#ffcdd2"/>
<rect x="1787.6" y="1199" width="21" height="5" fill="#ffcdd2"/>
<rect x="1810.5" y="1196" width="21" height="3" fill="#26a69a"/>
<rect x="1833.5" y="1195" width="21" height="4" fill="#26a69a"/>
<rect x="1856.5" y="1199" width="21" height="3" fill="#ff5252"/>
<rect x="1879.5" y="1199" width="21" height="10" fill="#ff5252"/>
<polyline points="-17,1259.3 6,1251.7 29,1239.3 52,1230 74.9,1222 97.9,1214.7 120.9,1217.7 143.9,1222.7 166.8,1227.3 189.8,1230.3 212.8,1226 235.8,1231.3 258.7,1236 281.7,1236.7 304.7,1237.3 327.7,1251 350.6,1257 373.6,1269.7 396.6,1262 419.6,1267.3 442.5,1261.7 465.5,1252.7 488.5,1247.3 511.5,1242.3 534.4,1240 557.4,1238.7 580.4,1234.3 603.4,1231.3 626.3,1227.3 649.3,1224.7 672.3,1218 695.2,1197.7 718.2,1179.3 741.2,1165 764.2,1151.7 787.2,1141 810.1,1136 833.1,1132 856.1,1131.3 879.1,1130.7 902,1122 925,1116 948,1114.3 971,1118.7 993.9,1122.7 1016.9,1123 1039.9,1122.7 1062.9,1106.3 1085.8,1096.3 1108.8,1085 1131.8,1079 1154.8,1073.3 1177.7,1069 1200.7,1070 1223.7,1072.7 1246.7,1077 1269.6,1082.3 1292.6,1081.7 1315.6,1085 1338.6,1087.3 1361.5,1085 1384.5,1079.3 1407.5,1088.3 1430.5,1095 1453.4,1098.3 1476.4,1101.7 1499.4,1104 1522.4,1107 1545.3,1118.3 1568.3,1131.3 1591.3,1140.3 1614.2,1147 1637.2,1154.3 1660.2,1159.7 1683.2,1167 1706.2,1178.7 1729.1,1181 1752.1,1180 1775.1,1179.3 1798.1,1169 1821,1161 1844,1158.7 1867,1166 1890,1176" fill="none" stroke="#2196f3" stroke-width="2" stroke-linejoin="round"/>
<polyline points="-17,1281.7 6,1275.7 29,1268.3 52,1261 74.9,1253.3 97.9,1245.7 120.9,1240 143.9,1236.7 166.8,1234.7 189.8,1233.7 212.8,1232.3 235.8,1232.3 258.7,1233 281.7,1233.7 304.7,1234.3 327.7,1237.7 350.6,1241.7 373.6,1247 396.6,1250.3 419.6,1253.7 442.5,1255.3 465.5,1255 488.5,1253.7 511.5,1251.7 534.4,1249.3 557.4,1247 580.4,1244.3 603.4,1242 626.3,1239 649.3,1236 672.3,1232.3 695.2,1225.7 718.2,1216.3 741.2,1206 764.2,1195.3 787.2,1184.3 810.1,1174.3 833.1,1165.3 856.1,1158.3 879.1,1153.3 902,1147.7 925,1141 948,1136 971,1132.3 993.9,1130.3 1016.9,1128.7 1039.9,1127.7 1062.9,1123 1085.8,1118.3 1108.8,1111.7 1131.8,1105.3 1154.8,1098.7 1177.7,1092.7 1200.7,1088 1223.7,1085 1246.7,1083.3 1269.6,1083 1292.6,1083 1315.6,1083.3 1338.6,1084.3 1361.5,1084.3 1384.5,1083.3 1407.5,1084 1430.5,1086.3 1453.4,1089 1476.4,1091.7 1499.4,1094 1522.4,1096.7 1545.3,1101 1568.3,1107 1591.3,1113.7 1614.2,1120.3 1637.2,1127 1660.2,1133.3 1683.2,1140.3 1706.2,1147.7 1729.1,1153.7 1752.1,1159 1775.1,1163.3 1798.1,1165 1821,1164.3 1844,1163 1867,1163.7 1890,1166.3" fill="none" stroke="#f57c00" stroke-width="2" stroke-linejoin="round"/>
<polyline points="-17,1325.7 6,1339.7 29,1368.3 52,1392.3 74.9,1416 97.9,1439.7 120.9,1450 143.9,1451.7 166.8,1453.3 189.8,1452.3 212.8,1460.7 235.8,1481.7 258.7,1492.3 281.7,1503 304.7,1514 327.7,1503.3 350.6,1487.7 373.6,1474 396.6,1474.7 419.6,1475.7 442.5,1476.7 465.5,1484.3 488.5,1492.7 511.5,1500.3 534.4,1510.7 557.4,1515.3 580.4,1520 603.4,1524.3 626.3,1531.3 649.3,1534.7 672.3,1549.3 695.2,1537 718.2,1524.3 741.2,1511.7 764.2,1493.3 787.2,1476 810.1,1462.7 833.1,1456.7 856.1,1450.7 879.1,1449.7 902,1436 925,1422.7 948,1414 971,1417.3 993.9,1428.3 1016.9,1445.7 1039.9,1457.7 1062.9,1442.7 1085.8,1429.7 1108.8,1415 1131.8,1402.3 1154.8,1385 1177.7,1369.7 1200.7,1355 1223.7,1353.3 1246.7,1350.7 1269.6,1350.3 1292.6,1342.7 1315.6,1346 1338.6,1349 1361.5,1344 1384.5,1334 1407.5,1334 1430.5,1334.3 1453.4,1336 1476.4,1333 1499.4,1341 1522.4,1349 1545.3,1370 1568.3,1397.7 1591.3,1419.3 1614.2,1443.3 1637.2,1460.7 1660.2,1480.7 1683.2,1499.3 1706.2,1500.7 1729.1,1505.3 1752.1,1511.7 1775.1,1520 1798.1,1526 1821,1531 1844,1538.3 1867,1547.3 1890,1543.3" fill="none" stroke="#f24949" stroke-width="2" stroke-linejoin="round"/>
</g>
<rect x="0" y="1316" width="157" height="48" fill="#191f2b" opacity="0.65"/>
<rect x="0" y="511.9" width="2756" height="1" fill="#0c1222" opacity="0.85"/>
<rect x="0" y="515.2" width="2756" height="1" fill="#0c1222" opacity="0.85"/>
<rect x="0" y="512.9" width="2756" height="2.3" fill="#f3f5fd"/>
<rect x="0" y="775.9" width="2756" height="1" fill="#0c1222" opacity="0.85"/>
<rect x="0" y="779.2" width="2756" height="1" fill="#0c1222" opacity="0.85"/>
<rect x="0" y="776.9" width="2756" height="2.3" fill="#f3f5fd"/>
<rect x="0" y="1039.9" width="2756" height="1" fill="#0c1222" opacity="0.85"/>
<rect x="0" y="1043.2" width="2756" height="1" fill="#0c1222" opacity="0.85"/>
<rect x="0" y="1040.9" width="2756" height="2.3" fill="#f3f5fd"/>
<rect x="0" y="1303.9" width="2756" height="1" fill="#0c1222" opacity="0.85"/>
<rect x="0" y="1307.2" width="2756" height="1" fill="#0c1222" opacity="0.85"/>
<rect x="0" y="1304.9" width="2756" height="2.3" fill="#f3f5fd"/>
<rect x="0" y="1570" width="2756" height="1.5" fill="#363a45"/>
<rect x="2602" y="0" width="1.5" height="513" fill="#363a45"/>
<rect x="2602" y="515" width="1.5" height="262" fill="#363a45"/>
<rect x="2602" y="779" width="1.5" height="262" fill="#363a45"/>
<rect x="2602" y="1043" width="1.5" height="262" fill="#363a45"/>
<rect x="2602" y="1307" width="1.5" height="309" fill="#363a45"/>
<path d="M2602,166.8 H2746 a3,3 0 0 1 3,3 V197.5 a3,3 0 0 1 -3,3 H2602 Z" fill="#e0524c"/>
<circle cx="47" cy="1512.1" r="33" fill="#131722" stroke="#4b4d54" stroke-width="1.6"/>
<g transform="translate(25.6,1497) scale(1.22)" fill="#ffffff"><path d="M14 22H7V11H0V4h14v18zM28 22h-8l7.5-18h8L28 22z"/><circle cx="20" cy="8" r="4"/></g>
<polygon points="2666.5,1599 2673.7,1586.5 2688.3,1586.5 2695.5,1599 2688.3,1611.5 2673.7,1611.5" fill="none" stroke="#d1d4dc" stroke-width="2" stroke-linejoin="round"/>
<circle cx="2681" cy="1599" r="4.5" fill="none" stroke="#d1d4dc" stroke-width="2"/>
<text x="159.5" y="32.8" font-size="32" fill="#d0d2d8" font-family="'Liberation Sans','Noto Sans CJK JP',sans-serif">日</text>
<text x="423.7" y="32.8" font-size="24.6" fill="#d0d2d8" font-family="'Liberation Sans','Noto Sans CJK JP',sans-serif" textLength="50.1" lengthAdjust="spacing">始値</text>
<text x="619.6" y="32.8" font-size="24.6" fill="#d0d2d8" font-family="'Liberation Sans','Noto Sans CJK JP',sans-serif" textLength="50.1" lengthAdjust="spacing">高値</text>
<text x="815.3" y="32.8" font-size="24.6" fill="#d0d2d8" font-family="'Liberation Sans','Noto Sans CJK JP',sans-serif" textLength="50.1" lengthAdjust="spacing">安値</text>
<text x="1011" y="32.8" font-size="24.6" fill="#d0d2d8" font-family="'Liberation Sans','Noto Sans CJK JP',sans-serif" textLength="50.1" lengthAdjust="spacing">終値</text>
<text x="116.4" y="81.6" font-size="24.6" fill="#d0d2d8" font-family="'Liberation Sans','Noto Sans CJK JP',sans-serif" textLength="75.6" lengthAdjust="spacing">出来高</text>
<text x="8.9" y="225.6" font-size="24.6" fill="#d0d2d8" font-family="'Liberation Sans','Noto Sans CJK JP',sans-serif" textLength="126.6" lengthAdjust="spacing">一目均衡表</text>
<text x="208.1" y="1607.8" font-size="24" font-weight="700" fill="#d0d2d8" font-family="'Liberation Sans','Noto Sans CJK JP',sans-serif">月</text>
<text x="897.3" y="1607.8" font-size="24" font-weight="700" fill="#d0d2d8" font-family="'Liberation Sans','Noto Sans CJK JP',sans-serif">月</text>
<text x="1609.6" y="1607.8" font-size="24" font-weight="700" fill="#d0d2d8" font-family="'Liberation Sans','Noto Sans CJK JP',sans-serif">月</text>
<text x="2298.8" y="1607.8" font-size="24" font-weight="700" fill="#d0d2d8" font-family="'Liberation Sans','Noto Sans CJK JP',sans-serif">月</text>
</svg>
<div id="labels"><svg class="c" width="2756" height="1616" viewBox="0 0 2756 1616" font-family="Liberation Sans, sans-serif" style="font-family:'Liberation Sans',sans-serif">
<text x="8.3" y="34.50" font-size="32" fill="#d0d2d8" textLength="108.7" lengthAdjust="spacing">bitbank</text>
<text x="128.8" y="32.00" font-size="32" fill="#d0d2d8" text-anchor="middle">·</text>
<text x="142.5" y="34.50" font-size="32" fill="#d0d2d8">1</text>
<text x="203.8" y="34.50" font-size="32" fill="#d0d2d8" text-anchor="middle">·</text>
<text x="216" y="34.50" font-size="32" fill="#d0d2d8" textLength="109.7" lengthAdjust="spacing">btc_jpy</text>
<text x="478.6" y="33.70" font-size="26.5" fill="#e0524c" textLength="128.6" lengthAdjust="spacing">15186599</text>
<text x="674.3" y="33.70" font-size="26.5" fill="#e0524c" textLength="129.1" lengthAdjust="spacing">15186599</text>
<text x="869.6" y="33.70" font-size="26.5" fill="#e0524c" textLength="129.6" lengthAdjust="spacing">14764888</text>
<text x="1065.3" y="33.70" font-size="26.5" fill="#e0524c" textLength="129.1" lengthAdjust="spacing">14928885</text>
<text x="1206.5" y="33.70" font-size="26.5" fill="#e0524c" textLength="113.7" lengthAdjust="spacing">−261115</text>
<text x="1327.5" y="33.70" font-size="26.5" fill="#e0524c" textLength="113.7" lengthAdjust="spacing">(−1.72%)</text>
<text x="8.3" y="83.00" font-size="26.5" fill="#d0d2d8" textLength="89.2" lengthAdjust="spacing">Volume</text>
<text x="106.5" y="83.00" font-size="26.5" fill="#d0d2d8">(</text>
<text x="193.5" y="83.00" font-size="26.5" fill="#d0d2d8">)</text>
<text x="220.3" y="83.00" font-size="26.5" fill="#e0524c" textLength="47.2" lengthAdjust="spacing">103</text>
<text x="8.3" y="130.70" font-size="26.5" fill="#d0d2d8" textLength="54.9" lengthAdjust="spacing">EMA</text>
<text x="81.5" y="130.70" font-size="26.5" fill="#00bcd4" textLength="127.2" lengthAdjust="spacing">15321992</text>
<text x="8.3" y="178.20" font-size="26.5" fill="#d0d2d8" textLength="54.9" lengthAdjust="spacing">EMA</text>
<text x="81.5" y="178.20" font-size="26.5" fill="#ffeb3b" textLength="126.7" lengthAdjust="spacing">14779331</text>
<text x="139.5" y="222.00" font-size="19" fill="#d0d2d8">®</text>
<text x="174" y="227.00" font-size="26.5" fill="#43a047" textLength="128.5" lengthAdjust="spacing">14928885</text>
<text x="315.3" y="227.00" font-size="26.5" fill="#a5d6a7" textLength="128.4" lengthAdjust="spacing">15271230</text>
<text x="457" y="227.00" font-size="26.5" fill="#ef9a9a" textLength="128.7" lengthAdjust="spacing">14622778</text>
<text x="8" y="557.50" font-size="26.5" fill="#d0d2d8" textLength="43.9" lengthAdjust="spacing">CCI</text>
<text x="68" y="557.50" font-size="26.5" fill="#d4cd4c" textLength="88.2" lengthAdjust="spacing">−90.84</text>
<text x="8" y="821.50" font-size="26.5" fill="#d0d2d8" textLength="74.2" lengthAdjust="spacing">Fisher</text>
<text x="98.3" y="821.50" font-size="26.5" fill="#2196f3" textLength="56.2" lengthAdjust="spacing">0.85</text>
<text x="168.3" y="821.50" font-size="26.5" fill="#f57c00" textLength="53.9" lengthAdjust="spacing">1.39</text>
<text x="8" y="1085.50" font-size="26.5" fill="#d0d2d8" textLength="75.9" lengthAdjust="spacing">MACD</text>
<text x="100" y="1085.50" font-size="26.5" fill="#ff5252" textLength="97.9" lengthAdjust="spacing">−49290</text>
<text x="211.3" y="1085.50" font-size="26.5" fill="#2196f3" textLength="94.9" lengthAdjust="spacing">115437</text>
<text x="320" y="1085.50" font-size="26.5" fill="#f57c00" textLength="95.5" lengthAdjust="spacing">164727</text>
<text x="8" y="1349.50" font-size="26.5" fill="#d0d2d8" textLength="52.5" lengthAdjust="spacing">ADX</text>
<text x="78.3" y="1349.50" font-size="26.5" fill="#f24949" textLength="70.6" lengthAdjust="spacing">18.50</text>
<text x="2619.3" y="62.40" font-size="24.5" fill="#c8cad0" textLength="119" lengthAdjust="spacing">17000000</text>
<text x="2619.3" y="125.50" font-size="24.5" fill="#c8cad0" textLength="119" lengthAdjust="spacing">16000000</text>
<text x="2619.3" y="251.60" font-size="24.5" fill="#c8cad0" textLength="119" lengthAdjust="spacing">14000000</text>
<text x="2619.3" y="314.60" font-size="24.5" fill="#c8cad0" textLength="119" lengthAdjust="spacing">13000000</text>
<text x="2619.3" y="377.60" font-size="24.5" fill="#c8cad0" textLength="119" lengthAdjust="spacing">12000000</text>
<text x="2619.3" y="440.60" font-size="24.5" fill="#c8cad0" textLength="119" lengthAdjust="spacing">11000000</text>
<text x="2619.3" y="503.60" font-size="24.5" fill="#c8cad0" textLength="119" lengthAdjust="spacing">10000000</text>
<text x="2619.3" y="192.40" font-size="24.5" fill="#ffffff" textLength="119.5" lengthAdjust="spacing">14928885</text>
<text x="2619.3" y="587.70" font-size="24.5" fill="#c8cad0" textLength="81.6" lengthAdjust="spacing">200.00</text>
<text x="2619.3" y="670.20" font-size="24.5" fill="#c8cad0" textLength="51" lengthAdjust="spacing">0.00</text>
<text x="2619.3" y="753.30" font-size="24.5" fill="#c8cad0" textLength="96.3" lengthAdjust="spacing">−200.00</text>
<text x="2619.3" y="860.90" font-size="24.5" fill="#c8cad0" textLength="51" lengthAdjust="spacing">2.00</text>
<text x="2619.3" y="935.70" font-size="24.5" fill="#c8cad0" textLength="51" lengthAdjust="spacing">0.00</text>
<text x="2619.3" y="1010.60" font-size="24.5" fill="#c8cad0" textLength="66.5" lengthAdjust="spacing">−2.00</text>
<text x="2619.3" y="1128.60" font-size="24.5" fill="#c8cad0" textLength="89" lengthAdjust="spacing">400000</text>
<text x="2619.3" y="1207.50" font-size="24.5" fill="#c8cad0">0</text>
<text x="2619.3" y="1286.40" font-size="24.5" fill="#c8cad0" textLength="104.5" lengthAdjust="spacing">−400000</text>
<text x="2619.3" y="1418.60" font-size="24.5" fill="#c8cad0" textLength="66.7" lengthAdjust="spacing">30.00</text>
<text x="2619.3" y="1534.90" font-size="24.5" fill="#c8cad0" textLength="66.7" lengthAdjust="spacing">20.00</text>
<text x="373.6" y="1608.30" font-size="24.5" fill="#c8cad0" text-anchor="middle">8</text>
<text x="534.4" y="1608.30" font-size="24.5" fill="#c8cad0" text-anchor="middle">15</text>
<text x="695.2" y="1608.30" font-size="24.5" fill="#c8cad0" text-anchor="middle">22</text>
<text x="1062.9" y="1608.30" font-size="24.5" fill="#c8cad0" text-anchor="middle">8</text>
<text x="1223.7" y="1608.30" font-size="24.5" fill="#c8cad0" text-anchor="middle">15</text>
<text x="1384.5" y="1608.30" font-size="24.5" fill="#c8cad0" text-anchor="middle">22</text>
<text x="1775.1" y="1608.30" font-size="24.5" fill="#c8cad0" text-anchor="middle">8</text>
<text x="1935.9" y="1608.30" font-size="24.5" fill="#c8cad0" text-anchor="middle">15</text>
<text x="2096.7" y="1608.30" font-size="24.5" fill="#c8cad0" text-anchor="middle">22</text>
<text x="2464.3" y="1608.30" font-size="24.5" fill="#c8cad0" text-anchor="middle">8</text>
<text x="194" y="1608.30" font-size="24.5" fill="#d0d2d8" font-weight="700">4</text>
<text x="883.2" y="1608.30" font-size="24.5" fill="#d0d2d8" font-weight="700">5</text>
<text x="1595.4" y="1608.30" font-size="24.5" fill="#d0d2d8" font-weight="700">6</text>
<text x="2284.7" y="1608.30" font-size="24.5" fill="#d0d2d8" font-weight="700">7</text>
</svg></div>
</body></html>
